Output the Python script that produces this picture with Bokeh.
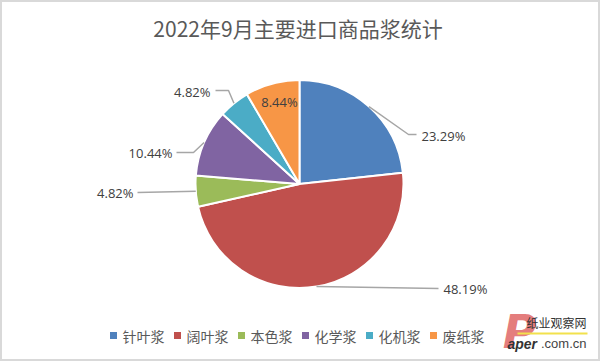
import math
from bokeh.plotting import figure
from bokeh.models import Range1d
from bokeh.core.properties import value
from bokeh.embed import file_html
from bokeh.resources import INLINE

# ---- data ----
title_text = "2022年9月主要进口商品浆统计"
categories = ["针叶浆", "阔叶浆", "本色浆", "化学浆", "化机浆", "废纸浆"]
shares = [23.29, 48.19, 4.82, 10.44, 4.82, 8.44]
colors = ["#4F81BD", "#C0504D", "#9BBB59", "#8064A2", "#4BACC6", "#F79646"]
pct_labels = [f"{v:.2f}%" for v in shares]

# ---- layout (pixel coords of the 600x361 page; y measured downwards) ----
W, H = 600, 361
def Y(y):
    return H - y

CX, CY, R = 299.0, 183.5, 104.0
# per slice: (elbow point or None, end point, text x, text y, align)
label_layout = [
    ((408, 134), (416, 134), 421, 135, "left"),
    (None, (438, 288), 443, 288, "left"),
    (None, (137, 192), 133, 192, "right"),
    ((193, 152), (176, 152), 172, 152, "right"),
    ((228, 90), (215, 90), 210, 91, "right"),
    None,  # inside label
]
inside_pos = (279, 101)

p = figure(width=W, height=H, x_range=Range1d(0, W), y_range=Range1d(0, H),
           output_backend="svg", toolbar_location=None, min_border=0)
p.axis.visible = False
p.grid.visible = False
p.outline_line_color = "#d9d9d9"
p.outline_line_width = 3
p.background_fill_color = "white"
p.border_fill_color = "white"

total = sum(shares)
starts, ends, mids = [], [], []
cum = 0.0
for v in shares:
    a0 = cum / total
    cum += v
    a1 = cum / total
    starts.append(math.pi / 2 - 2 * math.pi * a1)
    ends.append(math.pi / 2 - 2 * math.pi * a0)
    mids.append((a0 + a1) / 2)

p.wedge(x=[CX] * len(shares), y=[Y(CY)] * len(shares), radius=R,
        start_angle=starts, end_angle=ends, direction="anticlock",
        fill_color=colors, line_color="white", line_width=2)

# leader lines and labels
xs, ys = [], []
for i, lay in enumerate(label_layout):
    if lay is None:
        continue
    elbow, end, lx, ly, align = lay
    th = math.pi / 2 - 2 * math.pi * mids[i]
    ex = CX + R * math.cos(th)
    ey = Y(CY) + R * math.sin(th)
    px = [ex]
    py = [ey]
    if elbow is not None:
        px.append(elbow[0]); py.append(Y(elbow[1]))
    px.append(end[0]); py.append(Y(end[1]))
    xs.append(px); ys.append(py)
p.multi_line(xs=xs, ys=ys, line_color="#a6a6a6", line_width=1.5)

for i, lay in enumerate(label_layout):
    if lay is None:
        p.text(x=[inside_pos[0]], y=[Y(inside_pos[1])], text=[pct_labels[i]],
               text_align="center", text_baseline="middle",
               text_font=value("Open Sans"), text_font_size="13px", text_color="#404040")
    else:
        elbow, end, lx, ly, align = lay
        p.text(x=[lx], y=[Y(ly)], text=[pct_labels[i]],
               text_align=align, text_baseline="middle",
               text_font=value("Open Sans"), text_font_size="13px", text_color="#404040")

# title
p.text(x=[297.5], y=[Y(27)], text=[title_text], text_align="center", text_baseline="middle",
       text_font=value("Noto Sans CJK SC"), text_font_size="21px", text_color="#595959")

# legend
leg_x = [113 + i * 64 for i in range(len(categories))]
p.scatter(x=leg_x, y=[Y(335)] * len(categories), marker="square", size=7,
          fill_color=colors, line_color=None)
p.text(x=[x + 9 for x in leg_x], y=[Y(335)] * len(categories), text=categories,
       text_align="left", text_baseline="middle",
       text_font=value("Noto Sans CJK SC"), text_font_size="14px", text_color="#595959")

# watermark
p.text(x=[519], y=[Y(331)], text=["P"], text_align="center", text_baseline="middle",
       text_font=value("DejaVu Sans"), text_font_style="bold italic", text_font_size="46px",
       text_color="#e06666", text_alpha=0.85)
p.text(x=[556], y=[Y(322)], text=["纸业观察网"], text_align="center", text_baseline="middle",
       text_font=value("Noto Sans CJK SC"), text_font_size="12px", text_color="#333333")
p.segment(x0=[517], y0=[Y(333)], x1=[587], y1=[Y(333)], line_color="#f2e14c", line_width=2)
p.text(x=[507], y=[Y(343)], text=["aper"], text_align="left", text_baseline="middle",
       text_font=value("Liberation Sans"), text_font_style="bold italic", text_font_size="14px",
       text_color="#333333")
p.text(x=[586], y=[Y(343)], text=[".com.cn"], text_align="right", text_baseline="middle",
       text_font=value("Liberation Sans"), text_font_size="13px", text_color="#444444")

open("out.html", "w").write(file_html(p, INLINE))
